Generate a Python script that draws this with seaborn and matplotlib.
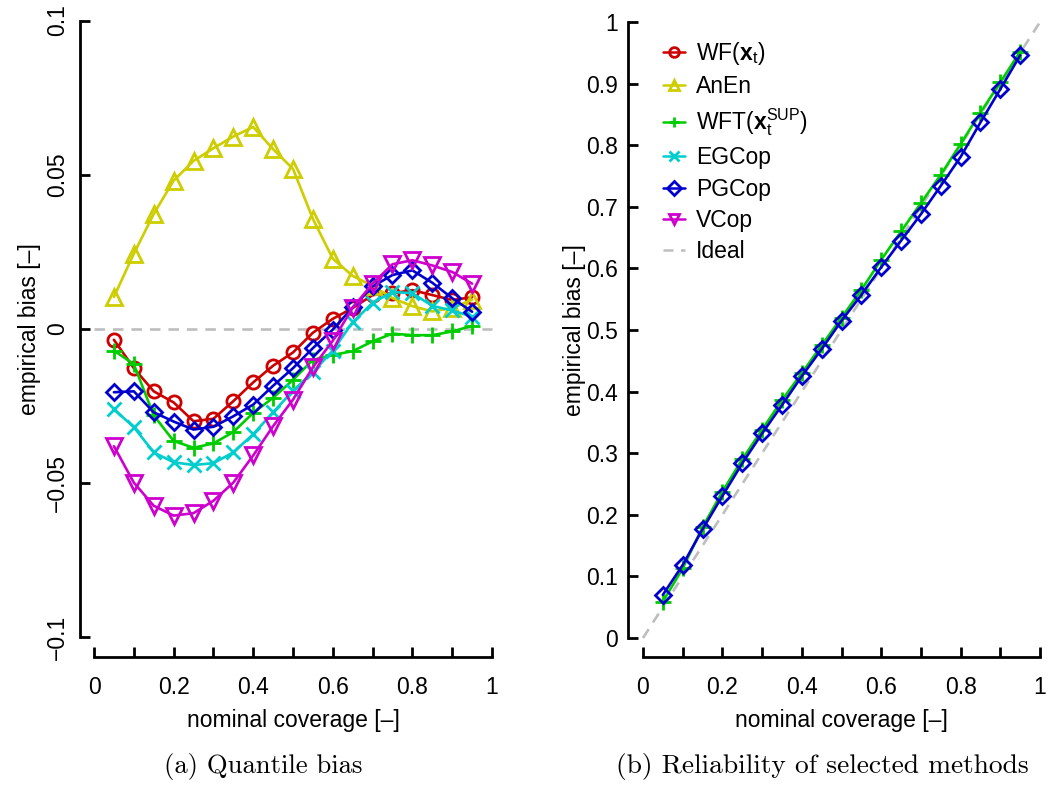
import matplotlib
matplotlib.use("Agg")
import matplotlib.pyplot as plt
import seaborn as sns
import pandas as pd

# ---------------- data ----------------
nominal = [0.05, 0.10, 0.15, 0.20, 0.25, 0.30, 0.35, 0.40, 0.45, 0.50,
           0.55, 0.60, 0.65, 0.70, 0.75, 0.80, 0.85, 0.90, 0.95]

bias_WF = [-0.0035, -0.0127, -0.0202, -0.0238, -0.0299, -0.0291, -0.0234, -0.0173, -0.0119, -0.0076,
           -0.0012, 0.0033, 0.0068, 0.0110, 0.0116, 0.0126, 0.0110, 0.0094, 0.0103]
bias_AnEn = [0.0104, 0.0244, 0.0373, 0.0481, 0.0545, 0.0586, 0.0624, 0.0655, 0.0583, 0.0519,
             0.0357, 0.0228, 0.0172, 0.0140, 0.0100, 0.0074, 0.0057, 0.0068, 0.0095]
bias_WFT = [-0.0070, -0.0114, -0.0280, -0.0363, -0.0385, -0.0371, -0.0334, -0.0272, -0.0223, -0.0165,
            -0.0100, -0.0084, -0.0072, -0.0040, -0.0015, -0.0020, -0.0020, -0.0008, 0.0010]
bias_EGCop = [-0.0260, -0.0318, -0.0400, -0.0432, -0.0441, -0.0435, -0.0400, -0.0341, -0.0270, -0.0200,
              -0.0140, -0.0070, 0.0022, 0.0085, 0.0120, 0.0116, 0.0075, 0.0060, 0.0040]
bias_PGCop = [-0.0205, -0.0202, -0.0270, -0.0300, -0.0326, -0.0317, -0.0283, -0.0245, -0.0184, -0.0127,
              -0.0062, -0.0002, 0.0070, 0.0138, 0.0175, 0.0190, 0.0150, 0.0100, 0.0056]
bias_VCop = [-0.0380, -0.0498, -0.0573, -0.0605, -0.0597, -0.0557, -0.0498, -0.0410, -0.0315, -0.0229,
             -0.0124, -0.0038, 0.0069, 0.0147, 0.0210, 0.0223, 0.0206, 0.0185, 0.0147]

rel_WFT = [0.059, 0.113, 0.180, 0.2375, 0.290, 0.338, 0.386, 0.430, 0.475, 0.520,
           0.565, 0.614, 0.660, 0.706, 0.752, 0.802, 0.853, 0.902, 0.952]
rel_PGCop = [0.070, 0.1185, 0.1765, 0.2305, 0.2836, 0.332, 0.378, 0.425, 0.469, 0.515,
             0.557, 0.602, 0.645, 0.688, 0.734, 0.781, 0.837, 0.891, 0.946]

ideal_x = [0.0, 1.0]
ideal_y = [0.0, 1.0]
zero_x = [0.0, 1.0]
zero_y = [0.0, 0.0]

series_names = ["WF", "AnEn", "WFT", "EGCop", "PGCop", "VCop"]
legend_labels = [r"WF($\mathbf{x}_\mathrm{t}$)", "AnEn", r"WFT($\mathbf{x}_\mathrm{t}^\mathrm{SUP}$)",
                 "EGCop", "PGCop", "VCop", "Ideal"]
x_ticks = [0, 0.2, 0.4, 0.6, 0.8, 1.0]
x_tick_labels = ["0", "0.2", "0.4", "0.6", "0.8", "1"]
x_minor = [0.1, 0.3, 0.5, 0.7, 0.9]
left_y_ticks = [-0.1, -0.05, 0, 0.05, 0.1]
left_y_labels = ["\u22120.1", "\u22120.05", "0", "0.05", "0.1"]
right_y_ticks = [0, 0.1, 0.2, 0.3, 0.4, 0.5, 0.6, 0.7, 0.8, 0.9, 1.0]
right_y_labels = ["0", "0.1", "0.2", "0.3", "0.4", "0.5", "0.6", "0.7", "0.8", "0.9", "1"]

# ---------------- styles ----------------
colors = {"WF": "#CD0000", "AnEn": "#CDCD00", "WFT": "#00CD00",
          "EGCop": "#00CDCD", "PGCop": "#0000CD", "VCop": "#CD00CD"}
markers = {"WF": "o", "AnEn": "^", "WFT": "+", "EGCop": "x", "PGCop": "D", "VCop": "v"}
msizes = {"WF": 9.5, "AnEn": 11, "WFT": 11.5, "EGCop": 10, "PGCop": 8.5, "VCop": 11}
gray = "#BEBEBE"

sns.set_theme(style="white")
plt.rcParams["font.family"] = ["Liberation Sans", "DejaVu Sans"]
plt.rcParams["mathtext.fontset"] = "custom"
plt.rcParams["mathtext.rm"] = "Liberation Sans"
plt.rcParams["mathtext.bf"] = "Liberation Sans:bold"
plt.rcParams["mathtext.it"] = "Liberation Sans:italic"
plt.rcParams["axes.unicode_minus"] = True

FS = 16.5
W, H = 1048, 798
fig = plt.figure(figsize=(W / 100, H / 100), dpi=100)

# left panel: x px = 94 + 398 d ; y px = 329 - 3085 d
lx0, lx1 = 78.1, 507.9
ly_top, ly_bot = 8.2, 649.8
ax1 = fig.add_axes([lx0 / W, (H - ly_bot) / H, (lx1 - lx0) / W, (ly_bot - ly_top) / H])
# right panel: x px = 643 + 397 d ; y px = 638 - 616 d
rx0, rx1 = 627.1, 1055.9
ry_top, ry_bot = -8.8, 668.8
ax2 = fig.add_axes([rx0 / W, (H - ry_bot) / H, (rx1 - rx0) / W, (ry_bot - ry_top) / H])

LW = 1.9
MEW = 2.0

# zero line
sns.lineplot(x=zero_x, y=zero_y, ax=ax1, color=gray, lw=LW, linestyle=(0, (4, 3)),
             label="_nolegend_", legend=False)

bias_data = {"WF": bias_WF, "AnEn": bias_AnEn, "WFT": bias_WFT,
             "EGCop": bias_EGCop, "PGCop": bias_PGCop, "VCop": bias_VCop}
for name, lab in zip(series_names, legend_labels):
    df = pd.DataFrame({"nominal": nominal, "bias": bias_data[name]})
    sns.lineplot(data=df, x="nominal", y="bias", ax=ax1, color=colors[name], lw=LW,
                 marker=markers[name], markersize=msizes[name], mfc="none",
                 mec=colors[name], mew=MEW, label=lab, clip_on=False, legend=False)

# right panel
sns.lineplot(x=ideal_x, y=ideal_y, ax=ax2, color=gray, lw=LW, linestyle=(0, (4, 3)),
             label="Ideal", legend=False)
for name, vals in [("WFT", rel_WFT), ("PGCop", rel_PGCop)]:
    df = pd.DataFrame({"nominal": nominal, "rel": vals})
    sns.lineplot(data=df, x="nominal", y="rel", ax=ax2, color=colors[name], lw=LW,
                 marker=markers[name], markersize=msizes[name], mfc="none",
                 mec=colors[name], mew=MEW, clip_on=False, legend=False)

# axes formatting
ax1.set_xlim(-0.04, 1.04)
ax1.set_ylim(-0.104, 0.104)
ax2.set_xlim(-0.04, 1.04)
ax2.set_ylim(-0.05, 1.05)

for ax, lpos, bpos, ybounds in [(ax1, -0.035, -0.1063, (-0.1, 0.1)), (ax2, -0.038, -0.0308, (0, 1))]:
    ax.set_facecolor("white")
    ax.grid(False)
    for s in ["top", "right"]:
        ax.spines[s].set_visible(False)
    ax.spines["left"].set_position(("data", lpos))
    ax.spines["bottom"].set_position(("data", bpos))
    ax.spines["left"].set_bounds(*ybounds)
    ax.spines["bottom"].set_bounds(0, 1)
    for s in ["left", "bottom"]:
        ax.spines[s].set_color("black")
        ax.spines[s].set_linewidth(2.0)
    ax.set_xticks(x_ticks)
    ax.set_xticklabels(x_tick_labels)
    ax.set_xticks(x_minor, minor=True)
    ax.tick_params(axis="both", which="both", direction="in", length=7, width=2.0,
                   color="black", labelsize=FS, labelcolor="black")
    ax.tick_params(axis="x", which="both", pad=14, bottom=True)
    ax.tick_params(axis="y", which="both", left=True)
    ax.set_xlabel("nominal coverage [\u2013]", fontsize=FS, color="black")
    ax.set_ylabel("empirical bias [\u2013]", fontsize=FS, color="black")

ax1.set_yticks(left_y_ticks)
ax1.set_yticklabels(left_y_labels, rotation=90, va="center")
ax1.tick_params(axis="y", pad=8)
ax2.set_yticks(right_y_ticks)
ax2.set_yticklabels(right_y_labels)
ax2.tick_params(axis="y", pad=7)

ax1.xaxis.set_label_coords((293 - lx0) / (lx1 - lx0), (ly_bot - 720) / (ly_bot - ly_top))
ax1.xaxis.label.set_va("center")
ax1.yaxis.set_label_coords((30 - lx0) / (lx1 - lx0), (ly_bot - 329) / (ly_bot - ly_top))
ax1.yaxis.label.set_va("center")
ax2.xaxis.set_label_coords((841.5 - rx0) / (rx1 - rx0), (ry_bot - 720) / (ry_bot - ry_top))
ax2.xaxis.label.set_va("center")
ax2.yaxis.set_label_coords((575 - rx0) / (rx1 - rx0), (ry_bot - 330) / (ry_bot - ry_top))
ax2.yaxis.label.set_va("center")

# legend (in right panel) built from plotted artists
h1, l1 = ax1.get_legend_handles_labels()
h2, l2 = ax2.get_legend_handles_labels()
handles = h1 + h2
labels = l1 + l2
leg = ax2.legend(handles, labels, loc="upper left",
                 bbox_to_anchor=(663 / W, 1 - 40 / H), bbox_transform=fig.transFigure,
                 frameon=False, fontsize=FS, handlelength=0.95, handletextpad=0.5,
                 labelspacing=0.36, borderpad=0, borderaxespad=0, numpoints=1)
for t in leg.get_texts():
    t.set_color("black")
for lh in leg.legend_handles:
    try:
        lh.set_markersize(7)
        lh.set_linewidth(1.8)
    except Exception:
        pass

# captions
fig.text(263 / W, 1 - 767 / H, "(a) Quantile bias", ha="center", va="center",
         family="cmr10", fontsize=19.2, color="black")
fig.text(822 / W, 1 - 767 / H, "(b) Reliability of selected methods", ha="center", va="center",
         family="cmr10", fontsize=19.8, color="black")

fig.savefig("out.png", dpi=100, facecolor="white")
